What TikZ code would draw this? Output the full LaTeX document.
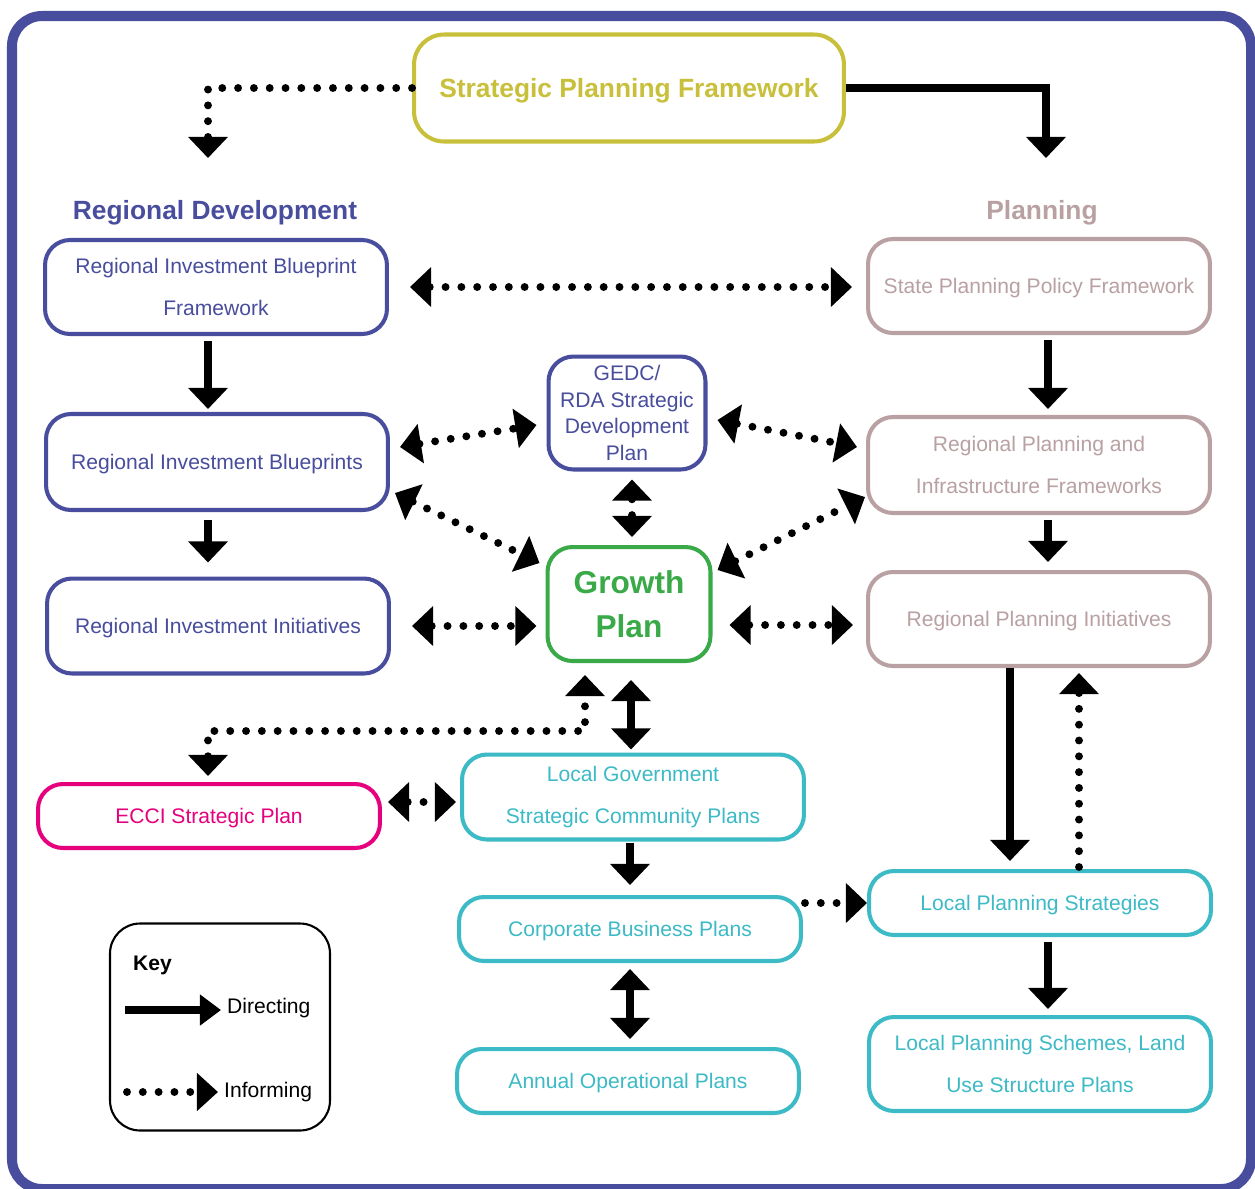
\documentclass[tikz,border=0pt]{standalone}
\usepackage{fontspec}
\setmainfont{Liberation Sans}
\usetikzlibrary{arrows.meta,calc,positioning}

\definecolor{rdblue}{RGB}{72,77,157}
\definecolor{spfolive}{RGB}{200,191,58}
\definecolor{plgrey}{RGB}{185,161,163}
\definecolor{gpgreen}{RGB}{58,170,73}
\definecolor{lgteal}{RGB}{60,186,198}
\definecolor{eccipink}{RGB}{229,0,125}

\tikzset{
  box/.style={draw, rounded corners=0.5cm, line width=2.3pt, align=center,
    inner sep=2pt, font=\fontsize{12}{24.4}\selectfont},
  widebox/.style={box, minimum width=6.84cm},
  rdbox/.style={widebox, draw=rdblue, text=rdblue},
  plbox/.style={widebox, draw=plgrey, text=plgrey},
  lgbox/.style={widebox, draw=lgteal, text=lgteal},
  header/.style={font=\fontsize{15}{18}\selectfont\bfseries},
  direct/.style={line width=4.5pt},
  inform/.style={line width=4.5pt, dash pattern=on 0pt off 9pt, line cap=round},
}

\begin{document}
\begin{tikzpicture}[x=0.02cm,y=-0.02cm,>={Triangle[length=12pt,width=22pt]}]
\useasboundingbox (0,0) rectangle (1255,1188);
\fill[white] (0,0) rectangle (1255,1188);
% outer frame
\draw[rdblue,line width=5.7pt,rounded corners=0.6cm] (12,16) rectangle (1251,1189);

% top
\node[box,draw=spfolive,text=spfolive,minimum width=8.6cm,minimum height=2.14cm,text depth=0pt,
  rounded corners=0.6cm,font=\fontsize{15}{18}\selectfont\bfseries] (spf) at (629,88) {Strategic Planning Framework};
\coordinate (rdtop) at (208,158);
\coordinate (pltop) at (1046,158);
\node[header,text=rdblue] (rdhead) at (215,213) {Regional Development};
\node[header,text=plgrey] (plhead) at (1042,213) {Planning};

% regional development column
\node[rdbox,minimum height=1.88cm] (ribf) at (216,287) {Regional Investment Blueprint\\Framework};
\node[rdbox,minimum height=1.92cm,text depth=0pt] (rib) at (217,462) {Regional Investment Blueprints};
\node[rdbox,minimum height=1.9cm,text depth=0pt] (rii) at (218,626) {Regional Investment Initiatives};

% middle column
\node[box,draw=rdblue,text=rdblue,minimum width=3.14cm,minimum height=2.26cm,
  font=\fontsize{12}{15.3}\selectfont] (gedc) at (627,413) {GEDC/\\RDA Strategic\\Development\\Plan};
\node[box,draw=gpgreen,text=gpgreen,minimum width=3.26cm,minimum height=2.28cm,
  font=\fontsize{18}{25}\selectfont\bfseries] (gp) at (629,604) {Growth\\Plan};
\node[lgbox,minimum height=1.7cm] (lgscp) at (633,797) {Local Government\\Strategic Community Plans};
\node[lgbox,minimum height=1.28cm,text depth=0pt] (cbp) at (630,929) {Corporate Business Plans};
\node[lgbox,minimum height=1.28cm,text depth=0pt] (aop) at (628,1081) {Annual Operational Plans};
\node[widebox,draw=eccipink,text=eccipink,minimum height=1.28cm,text depth=0pt] (ecci) at (209,816) {ECCI Strategic Plan};

% planning column
\node[plbox,minimum height=1.88cm,text depth=0pt] (sppf) at (1039,286) {State Planning Policy Framework};
\node[plbox,minimum height=1.92cm] (rpif) at (1039,465) {Regional Planning and\\Infrastructure Frameworks};
\node[plbox,minimum height=1.88cm,text depth=0pt] (rpi) at (1039,619) {Regional Planning Initiatives};
\node[lgbox,minimum height=1.28cm,text depth=0pt] (lps) at (1040,903) {Local Planning Strategies};
\node[lgbox,minimum height=1.88cm] (lpsl) at (1040,1064) {Local Planning Schemes, Land\\Use Structure Plans};

% key
\node[draw,line width=1.2pt,rounded corners=0.6cm,minimum width=4.4cm,minimum height=4.14cm] (key) at (220,1027) {};
\node[font=\fontsize{12}{14}\selectfont\bfseries,anchor=west] (keyhead) at (127,965) {Key};
\node[font=\fontsize{12}{14}\selectfont,anchor=west] (keydir) at (221,1008) {Directing};
\node[font=\fontsize{12}{14}\selectfont,anchor=west] (keyinf) at (218,1092) {Informing};
\coordinate (keyd) at (125,1010);
\coordinate (keyi) at (127,1092);
\draw[direct,-{Triangle[length=12pt,width=17pt]}] (keyd) -- (keyd -| keydir.west);
\draw[inform,-{Triangle[length=12pt,width=21pt]}] (keyi) -- (keyi -| keyinf.west);

% top connectors
\draw[inform,->] (spf.west) -| (rdtop);
\draw[direct,->] (spf.east) -| (pltop);

% directing
\draw[direct,->] ([shift={(-8,5)}]ribf.south) -- ([shift={(-9,-3)}]rib.north);
\draw[direct,->] ([shift={(-9,8)}]rib.south) -- ([shift={(-10,-14)}]rii.north);
\draw[direct,->] ([shift={(9,5)}]sppf.south) -- ([shift={(9,-6)}]rpif.north);
\draw[direct,->] ([shift={(9,5)}]rpif.south) -- ([shift={(9,-8)}]rpi.north);
\draw[direct,->] ([shift={(-29,0)}]rpi.south) -- ([shift={(-30,-8)}]lps.north);
\draw[direct,->] ([shift={(8,5)}]lps.south) -- ([shift={(8,-6)}]lpsl.north);
\draw[direct,<->] ([shift={(2,17)}]gp.south) -- ([shift={(-2,-3)}]lgscp.north);
\draw[direct,->] ([shift={(-3,1)}]lgscp.south) -- ([shift={(0,-10)}]cbp.north);
\draw[direct,<->] ([shift={(0,6)}]cbp.south) -- ([shift={(2,-8)}]aop.north);

% informing
\draw[inform,<->] ([shift={(21,0)}]ribf.east) -- ([shift={(-14,1)}]sppf.west);
\draw[inform,<->] ([shift={(10,-15)}]rib.east) -- ([shift={(-10,12)}]gedc.west);
\draw[inform,<->] ([shift={(10,7)}]gedc.east) -- ([shift={(-9,-18)}]rpif.west);
\draw[inform,<->] ([shift={(5,31)}]rib.east) -- ([shift={(-6,-41)}]gp.west);
\draw[inform,<->] ([shift={(5,-34)}]gp.east) -- ([shift={(-1,32)}]rpif.west);
\draw[inform,<->] ([shift={(5,8)}]gedc.south) -- ([shift={(3,-8)}]gp.north);
\draw[inform,<->] ([shift={(21,0)}]rii.east) -- ([shift={(-9,0)}]gp.west |- rii.east);
\draw[inform,<->] ([shift={(17,6)}]gp.east |- rpi.west) -- ([shift={(-13,6)}]rpi.west);
\coordinate (gpbend) at (585,731);
\draw[inform,<->] ([shift={(-1,-6)}]ecci.north) |- (gpbend) -- ([shift={(-44,12)}]gp.south);
\draw[inform,<->] ([shift={(6,-14)}]ecci.east) -- ([shift={(-4,5)}]lgscp.west);
\draw[inform,->] ([shift={(2,-26)}]cbp.east) -- (lps.west);
\draw[inform,->] ([shift={(39,-2)}]lps.north) -- ([shift={(40,5)}]rpi.south);
\end{tikzpicture}
\end{document}
